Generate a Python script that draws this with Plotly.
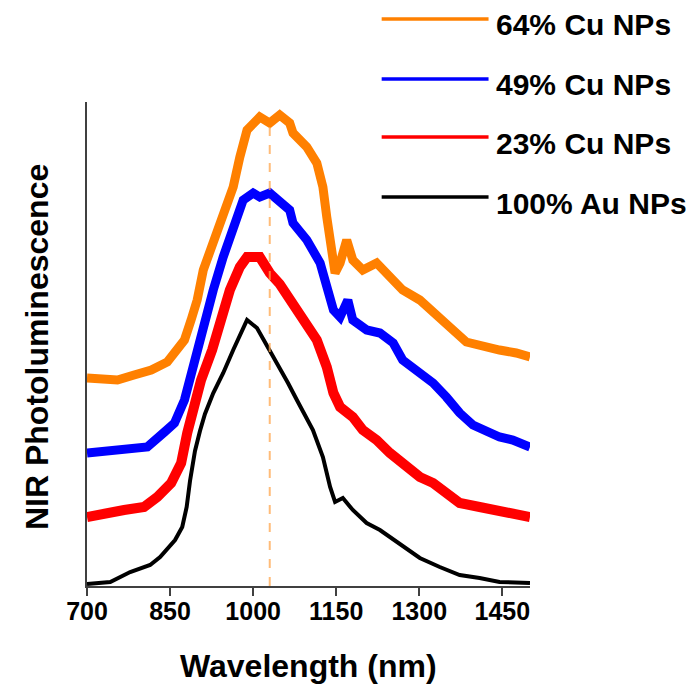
import plotly.graph_objects as go

# ---- data (arbitrary intensity units, offset stacked) ----
series_names = ["64% Cu NPs", "49% Cu NPs", "23% Cu NPs", "100% Au NPs"]
series_colors = ["#FF8000", "#0000FF", "#FF0000", "#000000"]

wl_cu64 = [700, 731, 755, 785, 816, 845, 863, 876, 888, 899, 910, 928, 946, 964, 976, 989,
           1012, 1030, 1048, 1066, 1072, 1097, 1115, 1126, 1133, 1139, 1148, 1157, 1169, 1180,
           1198, 1223, 1241, 1270, 1301, 1325, 1355, 1385, 1415, 1445, 1475, 1500]
pl_cu64 = [208, 206, 206, 211, 216, 224, 238, 246, 266, 286, 316, 343, 376, 399, 429, 456,
           469, 463, 471, 463, 453, 439, 423, 399, 369, 339, 313, 323, 346, 326,
           316, 323, 313, 296, 286, 273, 259, 244, 239, 236, 233, 229]

wl_cu49 = [700, 726, 755, 785, 809, 840, 858, 876, 888, 899, 910, 928, 946, 964, 982, 1000,
           1012, 1030, 1048, 1066, 1072, 1097, 1121, 1133, 1145, 1157, 1171, 1180, 1205, 1229,
           1253, 1270, 1301, 1325, 1349, 1373, 1397, 1421, 1445, 1469, 1500]
pl_cu49 = [133, 134, 136, 136, 139, 154, 163, 186, 213, 239, 263, 296, 329, 359, 386, 393,
           389, 393, 384, 376, 363, 346, 323, 303, 276, 269, 286, 266, 256, 253,
           243, 226, 213, 203, 189, 173, 161, 154, 149, 146, 139]

wl_cu23 = [700, 731, 767, 803, 827, 852, 870, 881, 894, 906, 926, 958, 976, 989, 1012, 1030,
           1048, 1066, 1085, 1097, 1115, 1133, 1145, 1157, 1180, 1198, 1223, 1247, 1270, 1301,
           1325, 1349, 1373, 1409, 1445, 1475, 1500]
pl_cu23 = [69, 73, 76, 79, 89, 103, 123, 153, 183, 206, 236, 296, 319, 329, 329, 313,
           302, 286, 273, 259, 246, 219, 193, 179, 169, 156, 146, 133, 123, 109,
           103, 93, 83, 79, 76, 73, 69]

wl_au100 = [700, 742, 778, 814, 832, 859, 872, 880, 886, 895, 904, 913, 928, 946, 964, 982,
            989, 1007, 1030, 1048, 1063, 1079, 1108, 1126, 1139, 1148, 1162, 1180, 1205, 1229,
            1259, 1279, 1301, 1337, 1373, 1409, 1445, 1500]
pl_au100 = [2, 4, 14, 21, 29, 46, 59, 79, 105, 135, 155, 172, 193, 213, 236, 259,
            266, 258, 236, 219, 203, 186, 156, 129, 99, 84, 88, 76, 63, 56,
            44, 36, 28, 19, 11, 8, 4, 3]

series_x = [wl_cu64, wl_cu49, wl_cu23, wl_au100]
series_y = [pl_cu64, pl_cu49, pl_cu23, pl_au100]
series_widths = [9, 9, 10, 4]

peak_marker_wl = 1030
peak_marker_top = 463

x_ticks = [700, 850, 1000, 1150, 1300, 1450]
x_title = "Wavelength (nm)"
y_title = "NIR Photoluminescence"

FONT = "Liberation Sans, Arial, sans-serif"

# the page body has an 8 px margin; lay out in reference pixels and compensate
OFF = 8
W, H = 694 - OFF, 687 - OFF
PL, PR, PT, PB = 87, 530.5, 102, 586          # plot area in reference pixels
L = PL - OFF
T = PT - OFF
pw = PR - PL
ph = PB - PT
R = W - L - pw
B = H - T - ph

def px2paper_x(px):
    return (px - PL) / pw

def px2paper_y(py):
    return (PB - py) / ph

fig = go.Figure()
for name, color, xs, ys, w in zip(series_names, series_colors, series_x, series_y, series_widths):
    fig.add_trace(go.Scatter(x=xs, y=ys, mode="lines", name=name,
                             line=dict(color=color, width=w), showlegend=False))

# vertical dashed reference line
fig.add_shape(type="line", xref="x", yref="y", x0=peak_marker_wl, x1=peak_marker_wl,
              y0=0, y1=peak_marker_top, layer="above", opacity=0.75,
              line=dict(color="#FFA64D", width=2, dash="dash"))

# custom legend (long line samples, widely spaced)
legend_y_px = [19, 79, 137, 197]
for name, color, ypx in zip(series_names, series_colors, legend_y_px):
    fig.add_shape(type="line", xref="paper", yref="paper",
                  x0=px2paper_x(382), x1=px2paper_x(489),
                  y0=px2paper_y(ypx), y1=px2paper_y(ypx),
                  line=dict(color=color, width=3.5))
    fig.add_annotation(xref="paper", yref="paper", x=px2paper_x(494), y=px2paper_y(ypx + 6),
                       text="<b>%s</b>" % name, showarrow=False, xanchor="left", yanchor="middle",
                       font=dict(family=FONT, size=30, color="black"))

# axis titles
fig.add_annotation(xref="paper", yref="paper", x=px2paper_x(309), y=px2paper_y(666),
                   text="<b>%s</b>" % x_title, showarrow=False, xanchor="center", yanchor="middle",
                   font=dict(family=FONT, size=32, color="black"))
fig.add_annotation(xref="paper", yref="paper", x=px2paper_x(37), y=px2paper_y(347),
                   text="<b>%s</b>" % y_title, showarrow=False, xanchor="center", yanchor="middle",
                   textangle=-90, font=dict(family=FONT, size=32, color="black"))

fig.update_layout(
    width=W, height=H,
    margin=dict(l=L, r=R, t=T, b=B, pad=0),
    paper_bgcolor="white", plot_bgcolor="white",
    showlegend=False,
    font=dict(family=FONT, color="black"),
    xaxis=dict(range=[700, 1500], tickmode="array", tickvals=x_ticks,
               ticktext=["<b>%d</b>" % v for v in x_ticks],
               tickfont=dict(family=FONT, size=25, color="black"),
               ticklabelstandoff=-6,
               showline=True, linecolor="#404040", linewidth=1.5,
               ticks="outside", ticklen=8, tickwidth=1.5, tickcolor="#404040",
               showgrid=False, zeroline=False),
    yaxis=dict(range=[0, 484], showticklabels=False, ticks="",
               showline=True, linecolor="#404040", linewidth=1.5,
               showgrid=False, zeroline=False),
)

fig.write_html("out.html")
